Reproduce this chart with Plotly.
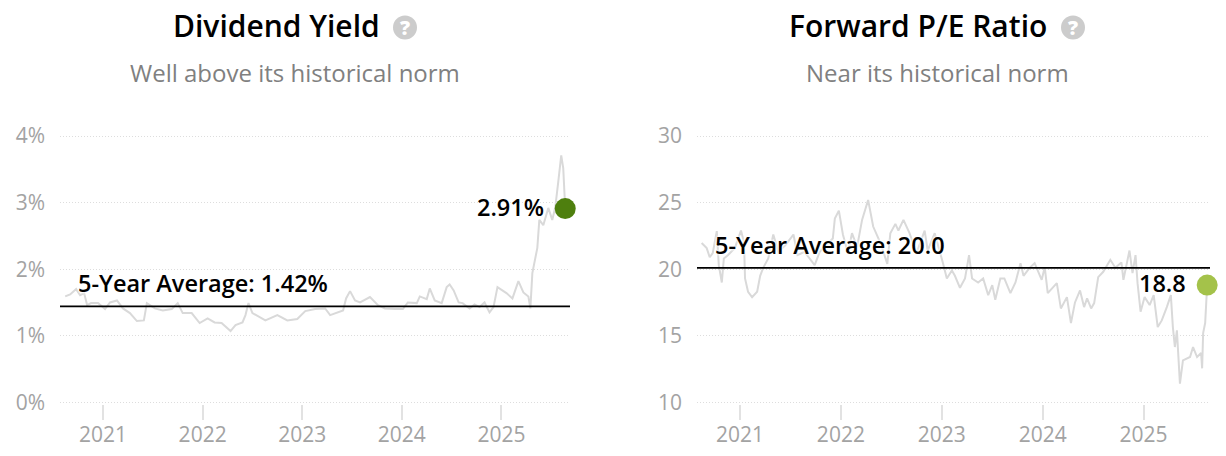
import plotly.graph_objects as go

FONT = "Open Sans"
YEAR_TICKS = [2021, 2022, 2023, 2024, 2025]

# Dividend yield: decimal year, percent
DY_T = [2020.62, 2020.67, 2020.73, 2020.77, 2020.81, 2020.84, 2020.88, 2020.95, 2021.02, 2021.07,
        2021.14, 2021.20, 2021.27, 2021.34, 2021.41, 2021.44, 2021.52, 2021.60, 2021.69, 2021.75,
        2021.80, 2021.89, 2021.97, 2022.05, 2022.12, 2022.19, 2022.28, 2022.33, 2022.40, 2022.43,
        2022.46, 2022.50, 2022.63, 2022.75, 2022.85, 2022.95, 2023.03, 2023.13, 2023.23, 2023.28,
        2023.41, 2023.44, 2023.48, 2023.53, 2023.58, 2023.68, 2023.76, 2023.83, 2023.93, 2024.01,
        2024.06, 2024.15, 2024.18, 2024.25, 2024.28, 2024.33, 2024.40, 2024.45, 2024.48, 2024.52,
        2024.57, 2024.61, 2024.68, 2024.73, 2024.78, 2024.83, 2024.88, 2024.92, 2024.96, 2025.05,
        2025.11, 2025.17, 2025.22, 2025.27, 2025.29, 2025.31, 2025.36, 2025.38, 2025.42, 2025.47,
        2025.51, 2025.54, 2025.57, 2025.60, 2025.62, 2025.64]
DY_V = [1.59, 1.62, 1.70, 1.61, 1.64, 1.46, 1.49, 1.49, 1.40, 1.50,
        1.53, 1.41, 1.34, 1.22, 1.23, 1.49, 1.41, 1.38, 1.40, 1.49,
        1.34, 1.34, 1.19, 1.26, 1.20, 1.19, 1.07, 1.16, 1.20, 1.31,
        1.49, 1.34, 1.23, 1.31, 1.23, 1.25, 1.37, 1.40, 1.41, 1.31,
        1.38, 1.56, 1.67, 1.53, 1.50, 1.58, 1.46, 1.41, 1.40, 1.40,
        1.50, 1.49, 1.59, 1.55, 1.71, 1.53, 1.49, 1.73, 1.77, 1.68,
        1.50, 1.49, 1.41, 1.47, 1.43, 1.50, 1.35, 1.43, 1.73, 1.64,
        1.56, 1.82, 1.65, 1.59, 1.41, 1.94, 2.32, 2.74, 2.66, 2.92,
        2.74, 2.93, 3.31, 3.71, 3.52, 2.91]
DY_AVG = 1.44
DY_TICKS = [0, 1, 2, 3, 4]
DY_TICK_TEXT = ["0%", "1%", "2%", "3%", "4%"]

# Forward P/E: decimal year, ratio
PE_T = [2020.62, 2020.67, 2020.70, 2020.73, 2020.77, 2020.79, 2020.82, 2020.84, 2020.88, 2020.95,
        2021.01, 2021.04, 2021.05, 2021.08, 2021.12, 2021.17, 2021.20, 2021.23, 2021.28, 2021.33,
        2021.38, 2021.45, 2021.53, 2021.57, 2021.64, 2021.74, 2021.79, 2021.86, 2021.92, 2021.94,
        2021.98, 2022.02, 2022.07, 2022.11, 2022.16, 2022.21, 2022.27, 2022.32, 2022.39, 2022.46,
        2022.49, 2022.54, 2022.57, 2022.62, 2022.68, 2022.75, 2022.83, 2022.86, 2022.93, 2023.01,
        2023.05, 2023.10, 2023.13, 2023.18, 2023.23, 2023.27, 2023.30, 2023.36, 2023.41, 2023.46,
        2023.50, 2023.53, 2023.58, 2023.62, 2023.68, 2023.73, 2023.78, 2023.81, 2023.87, 2023.92,
        2023.99, 2024.02, 2024.05, 2024.14, 2024.18, 2024.24, 2024.28, 2024.32, 2024.37, 2024.41,
        2024.44, 2024.48, 2024.51, 2024.55, 2024.60, 2024.67, 2024.72, 2024.78, 2024.80, 2024.86,
        2024.89, 2024.92, 2024.94, 2024.97, 2025.01, 2025.06, 2025.10, 2025.14, 2025.18, 2025.23,
        2025.27, 2025.29, 2025.31, 2025.33, 2025.36, 2025.39, 2025.46, 2025.49, 2025.53, 2025.57,
        2025.58, 2025.59, 2025.61, 2025.63]
PE_V = [21.97, 21.58, 20.9, 21.2, 22.86, 20.3, 19.0, 20.8, 21.05, 21.6,
        22.9, 22.0, 19.3, 18.3, 17.9, 18.3, 19.5, 20.1, 20.8, 22.6,
        21.3, 21.8, 22.6, 21.05, 21.3, 20.3, 21.3, 21.8, 22.3, 23.8,
        24.4, 22.6, 21.2, 22.7, 21.65, 23.7, 25.2, 23.2, 22.0, 20.4,
        22.7, 23.4, 22.9, 23.7, 22.7, 21.2, 22.9, 21.4, 22.7, 20.5,
        19.3, 19.9, 19.5, 18.6, 19.3, 21.05, 19.3, 19.0, 19.3, 18.05,
        18.8, 17.7, 19.3, 19.3, 18.2, 19.0, 20.45, 19.5, 20.1, 20.45,
        19.2, 20.15, 18.2, 18.95, 17.05, 17.9, 15.95, 17.5, 18.4, 17.15,
        17.8, 17.05, 17.45, 19.4, 19.8, 20.7, 20.1, 20.5, 19.2, 21.4,
        19.7, 21.05, 18.95, 16.8, 17.9, 17.3, 18.05, 15.65, 16.15, 17.15,
        18.05, 15.65, 14.15, 15.4, 11.4, 13.15, 13.4, 14.15, 13.4, 13.7,
        12.55, 15.2, 15.95, 18.8]
PE_AVG = 20.1
PE_TICKS = [10, 15, 20, 25, 30]
PE_TICK_TEXT = ["10", "15", "20", "25", "30"]

W, H = 1226, 456
GRAY_LINE = "#d9d9d9"
GRID = "#dddddd"
TICK_TXT = "#a3a3a3"

fig = go.Figure()

panels = [
    dict(ax="", t=DY_T, v=DY_V, avg=DY_AVG, ticks=DY_TICKS, ticktext=DY_TICK_TEXT, pad=0.02,
         xr=[2020.568, 2025.688], dom=[60, 570], dot="#4e7f0e", title="Dividend Yield",
         sub="Well above its historical norm", cx=276, sx=295, icon=405,
         lab="5-Year Average: 1.42%", labx=2020.73, laby=1.79, val="2.91%"),
    dict(ax="2", t=PE_T, v=PE_V, avg=PE_AVG, ticks=PE_TICKS, ticktext=PE_TICK_TEXT, pad=0.1,
         xr=[2020.574, 2025.658], dom=[697, 1210], dot="#a4c24a", title="Forward P/E Ratio",
         sub="Near its historical norm", cx=918, sx=937.5, icon=1073,
         lab="5-Year Average: 20.0", labx=2020.73, laby=21.8, val="18.8"),
]

annotations, shapes = [], []
halo = "0 0 3px #fff, 0 0 3px #fff, 0 0 3px #fff"
for p in panels:
    xa, ya = "x" + p["ax"], "y" + p["ax"]
    fig.add_trace(go.Scatter(x=p["t"], y=p["v"], xaxis=xa, yaxis=ya, mode="lines",
                             line=dict(color=GRAY_LINE, width=2), hoverinfo="skip", showlegend=False))
    fig.add_trace(go.Scatter(x=p["xr"], y=[p["avg"], p["avg"]], xaxis=xa, yaxis=ya, mode="lines",
                             line=dict(color="#000000", width=1.8), hoverinfo="skip", showlegend=False))
    fig.add_trace(go.Scatter(x=[p["t"][-1]], y=[p["v"][-1]], xaxis=xa, yaxis=ya, mode="markers",
                             marker=dict(color=p["dot"], size=21), cliponaxis=False,
                             hoverinfo="skip", showlegend=False))
    layout_x = dict(range=p["xr"], domain=[p["dom"][0] / W, p["dom"][1] / W], tickvals=YEAR_TICKS,
                    ticktext=[str(y) for y in YEAR_TICKS], automargin=False,
                    ticks="outside", ticklen=15, tickwidth=1.5, tickcolor="#e2e2e2",
                    showgrid=False, zeroline=False, showline=False, ticklabelstandoff=-3,
                    tickfont=dict(family=FONT, size=21, color=TICK_TXT), anchor=ya)
    layout_y = dict(range=[p["ticks"][0] - p["pad"], p["ticks"][-1] + p["pad"]],
                    domain=[1 - 403.6 / H, 1 - 134.7 / H], automargin=False,
                    tickvals=p["ticks"], ticktext=p["ticktext"], ticks="", showline=False,
                    zeroline=False, showgrid=True, gridcolor=GRID, griddash="1px,2px", gridwidth=1,
                    ticklabelstandoff=14, tickfont=dict(family=FONT, size=21, color=TICK_TXT), anchor=xa)
    fig.update_layout(**{("xaxis" + p["ax"]): layout_x, ("yaxis" + p["ax"]): layout_y})

    annotations += [
        dict(xref="paper", yref="paper", x=p["cx"] / W, y=1 - 26 / H, text=p["title"], showarrow=False,
             font=dict(family=FONT, size=30, color="#000", weight=600), xanchor="center", yanchor="middle"),
        dict(xref="paper", yref="paper", x=p["icon"] / W, y=1 - 27.5 / H, text="?", showarrow=False,
             font=dict(family=FONT, size=20, color="#fff", weight=800), xanchor="center", yanchor="middle"),
        dict(xref="paper", yref="paper", x=p["sx"] / W, y=1 - 72 / H, text=p["sub"], showarrow=False,
             font=dict(family=FONT, size=24, color="#808080"), xanchor="center", yanchor="middle"),
        dict(xref=xa, yref=ya, x=p["labx"], y=p["laby"], text=p["lab"], showarrow=False,
             font=dict(family=FONT, size=23.5, color="#000", weight=600, shadow=halo),
             xanchor="left", yanchor="middle"),
        dict(xref=xa, yref=ya, x=p["t"][-1], y=p["v"][-1], text=p["val"], showarrow=False, xshift=-19, yshift=2,
             font=dict(family=FONT, size=23.5, color="#000", weight=600, shadow=halo),
             xanchor="right", yanchor="middle"),
    ]
    shapes.append(dict(type="circle", xref="paper", yref="paper", layer="below", fillcolor="#cccccc",
                       line=dict(width=0), x0=(p["icon"] - 12) / W, x1=(p["icon"] + 12) / W,
                       y0=1 - 39.5 / H, y1=1 - 15.5 / H))

fig.update_layout(width=W, height=H, margin=dict(l=0, r=0, t=0, b=0), paper_bgcolor="#fff",
                  plot_bgcolor="#fff", annotations=annotations, shapes=shapes, showlegend=False)

fig.write_html("out.html", post_script="document.body.style.margin='0';document.documentElement.style.overflow='hidden';",
               config={"displayModeBar": False})
